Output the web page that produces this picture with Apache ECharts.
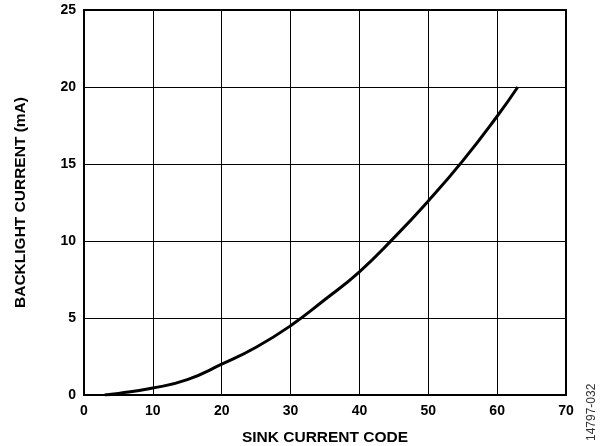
<!DOCTYPE html>
<html>
<head>
<meta charset="utf-8">
<script src="https://cdn.jsdelivr.net/npm/echarts@6/dist/echarts.min.js"></script>
<style>
html, body { margin: 0; padding: 0; background: #fff; }
#chart { width: 605px; height: 446px; }
</style>
</head>
<body>
<div id="chart"></div>
<script>
// sink current code vs backlight current (mA)
var codes = [3, 5, 10, 15, 20, 25, 30, 35, 40, 45, 50, 55, 60, 63];
var currents = [0, 0.1, 0.45, 1.0, 2.0, 3.1, 4.5, 6.2, 8.0, 10.2, 12.6, 15.2, 18.1, 20];
var xTicks = [0, 10, 20, 30, 40, 50, 60, 70];
var yTicks = [0, 5, 10, 15, 20, 25];

var font = 'Liberation Sans, Arial, sans-serif';
var chart = echarts.init(document.getElementById('chart'));
chart.setOption({
    animation: false,
    grid: {
        left: 84,
        right: 39,
        top: 10,
        bottom: 51,
        outerBoundsMode: 'none',
        containLabel: false,
        show: true,
        borderColor: '#000',
        borderWidth: 2
    },
    xAxis: {
        type: 'value',
        min: xTicks[0],
        max: xTicks[xTicks.length - 1],
        interval: 10,
        name: 'SINK CURRENT CODE',
        nameLocation: 'middle',
        nameGap: 35,
        nameTextStyle: {fontFamily: font, fontWeight: 'bold', fontSize: 15.5, color: '#000'},
        axisLine: {show: false},
        axisTick: {show: false},
        axisLabel: {fontFamily: font, fontWeight: 'bold', fontSize: 14, color: '#000', margin: 9},
        splitLine: {lineStyle: {color: '#000', width: 1}}
    },
    yAxis: {
        type: 'value',
        min: yTicks[0],
        max: yTicks[yTicks.length - 1],
        interval: 5,
        name: 'BACKLIGHT CURRENT (mA)',
        nameLocation: 'middle',
        nameGap: 55,
        nameTextStyle: {fontFamily: font, fontWeight: 'bold', fontSize: 15.5, color: '#000'},
        axisLine: {show: false},
        axisTick: {show: false},
        axisLabel: {fontFamily: font, fontWeight: 'bold', fontSize: 14, color: '#000', margin: 8},
        splitLine: {lineStyle: {color: '#000', width: 1}}
    },
    graphic: [{
        type: 'text',
        x: 592,
        y: 441,
        rotation: Math.PI / 2,
        style: {
            text: '14797-032',
            fontFamily: font,
            fontSize: 12,
            fill: '#333',
            align: 'left',
            verticalAlign: 'middle'
        }
    }],
    series: [{
        type: 'line',
        smooth: true,
        showSymbol: false,
        lineStyle: {color: '#000', width: 3},
        data: codes.map(function (c, i) { return [c, currents[i]]; })
    }]
});
</script>
</body>
</html>
